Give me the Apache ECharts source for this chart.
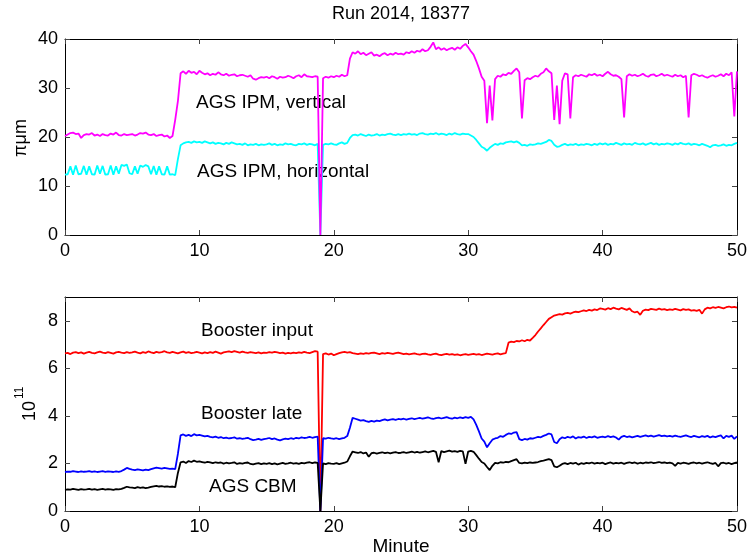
<!DOCTYPE html>
<html>
<head>
<meta charset="utf-8">
<script src="https://cdn.jsdelivr.net/npm/echarts@6/dist/echarts.min.js"></script>
<style>html,body{margin:0;padding:0;background:#fff;}#c{width:750px;height:558px;}</style>
</head>
<body>
<div id="c"></div>
<script>
// Sampling step (minutes) of the recorded traces
const STEP = 0.2;
const X_TICKS = [0, 10, 20, 30, 40, 50];
const TOP_Y_TICKS = [0, 10, 20, 30, 40];
const BOT_Y_TICKS = [0, 2, 4, 6, 8];

// AGS IPM, vertical (pi um)
const ipmVertical = [
20.2,20.5,20.8,20.9,20.6,20.7,19.8,20.4,20.6,20.5,20.8,20.3,20.5,20.2,20.6,20.4,20.3,20.7,20.5,20.9,20.4,20.3,20.6,20.4,20.5,
20.6,20.3,20.5,20.8,20.7,20.9,20.5,20.4,20.6,20.2,20.4,20.5,20.1,20.3,19.8,20.2,23.5,27.3,33.0,33.4,32.9,33.5,33.1,33.3,32.8,
33.5,33.1,32.8,33.0,32.6,32.9,32.7,33.2,32.8,32.6,32.9,32.5,32.7,32.8,32.4,32.6,32.7,32.5,32.3,32.6,31.9,31.7,32.0,32.2,32.1,
32.3,32.0,32.4,32.2,31.9,32.3,32.1,32.2,32.5,32.3,32.0,32.4,32.6,32.2,32.8,32.4,32.3,32.2,32.4,32.3,0,32.0,32.3,32.1,32.4,
32.2,32.5,32.3,32.7,32.4,32.6,36.0,37.3,37.0,37.5,36.9,37.2,36.7,37.0,37.3,36.6,36.8,36.5,36.9,37.1,36.7,37.0,36.8,37.2,36.9,
37.0,36.8,37.3,37.1,37.5,37.2,37.6,37.4,37.9,37.5,37.7,38.4,39.3,37.9,38.3,37.8,38.1,37.7,38.0,38.2,37.8,38.3,38.0,38.6,39.0,
38.3,37.5,36.8,35.5,34.0,32.3,31.5,22.8,30.5,23.4,31.8,32.5,32.3,32.8,32.6,33.1,32.9,33.5,34.0,33.2,23.8,31.6,32.0,31.8,32.2,
32.5,32.3,32.9,33.2,34.0,33.4,33.0,23.5,30.5,22.6,31.5,33.0,32.8,23.8,32.2,32.6,32.4,32.7,32.5,32.3,32.8,32.6,32.9,32.5,32.7,
32.4,32.9,33.3,32.8,32.5,32.6,32.3,31.8,24.0,32.4,32.8,32.5,32.7,32.4,32.6,32.9,32.5,32.3,32.7,32.8,32.4,32.6,32.9,32.5,32.7,
32.5,32.3,32.7,32.4,32.6,32.2,32.5,24.0,32.6,32.9,32.7,32.4,32.6,32.3,32.1,32.4,32.6,32.3,32.5,32.8,32.4,32.9,32.6,33.2,24.2,
33.4];

// AGS IPM, horizontal (pi um)
const ipmHorizontal = [
12.3,12.4,14.0,12.3,14.2,12.4,12.5,14.1,12.3,14.0,12.4,12.3,14.2,12.5,14.1,12.3,12.4,14.2,12.3,14.0,12.5,14.3,14.1,14.4,12.6,
12.4,14.0,12.5,14.2,13.9,14.3,14.0,12.4,14.1,12.3,14.0,12.4,12.3,14.0,12.3,12.4,12.2,15.5,18.3,18.7,18.9,19.0,18.8,19.1,18.9,
19.0,18.8,19.1,18.9,18.7,18.9,18.6,18.8,18.7,18.5,18.8,18.6,18.9,18.7,18.5,18.6,18.4,18.7,18.3,18.5,18.4,18.6,18.3,18.5,18.4,
18.5,18.7,18.4,18.6,18.3,18.5,18.4,18.7,18.5,18.6,18.4,18.3,18.6,18.5,18.7,18.4,18.6,18.5,18.3,18.6,0,18.4,18.6,18.5,18.7,
18.5,18.4,18.7,18.9,18.6,18.8,19.8,20.4,20.5,20.3,20.6,20.4,20.2,20.5,20.3,20.4,20.6,20.3,20.5,20.4,20.6,20.7,20.5,20.4,20.6,
20.4,20.6,20.5,20.7,20.5,20.6,20.4,20.7,20.8,20.6,20.5,20.7,20.6,20.8,20.5,20.7,20.6,20.4,20.7,20.5,20.8,20.6,20.5,20.7,20.6,
20.6,20.3,20.0,19.4,18.7,18.0,17.7,17.2,17.8,18.2,18.6,18.4,18.7,18.6,18.9,19.0,19.1,18.9,19.1,18.8,18.3,18.4,18.2,18.5,18.4,
18.5,18.7,18.6,18.8,19.0,19.4,19.2,18.4,18.0,18.1,18.4,18.6,18.3,18.5,18.4,18.6,18.3,18.5,18.4,18.6,18.5,18.3,18.6,18.4,18.7,
18.5,18.7,18.4,18.6,18.5,18.8,18.6,18.4,18.7,18.5,18.6,18.4,18.8,18.6,18.5,18.7,18.4,18.6,18.8,18.5,18.7,18.4,18.6,18.5,18.7,
18.6,18.4,18.7,18.5,18.8,18.6,18.5,18.7,18.4,18.6,18.5,18.3,18.6,18.4,18.2,17.9,18.3,18.4,18.2,18.3,18.5,18.2,18.4,18.3,18.6,
18.8];

// Booster input (1e11)
const boosterInput = [
6.63,6.65,6.60,6.66,6.68,6.64,6.67,6.62,6.66,6.69,6.65,6.63,6.67,6.70,6.66,6.64,6.68,6.65,6.62,6.67,6.69,6.66,6.64,6.68,6.65,
6.67,6.70,6.66,6.63,6.68,6.65,6.71,6.67,6.64,6.69,6.66,6.68,6.72,6.67,6.65,6.69,6.66,6.63,6.67,6.70,6.65,6.68,6.64,6.66,6.69,
6.66,6.63,6.67,6.64,6.68,6.65,6.70,6.66,6.62,6.67,6.69,6.71,6.68,6.72,6.69,6.66,6.70,6.67,6.65,6.68,6.66,6.64,6.67,6.63,6.66,
6.65,6.68,6.66,6.69,6.67,6.64,6.66,6.62,6.65,6.63,6.66,6.64,6.67,6.65,6.69,6.66,6.64,6.68,6.72,6.70,0,6.60,6.63,6.58,6.62,
6.55,6.60,6.64,6.67,6.69,6.66,6.68,6.64,6.62,6.60,6.63,6.61,6.64,6.62,6.65,6.66,6.63,6.60,6.64,6.62,6.65,6.63,6.61,6.64,6.66,
6.63,6.60,6.62,6.59,6.61,6.63,6.60,6.58,6.61,6.62,6.59,6.57,6.60,6.62,6.58,6.56,6.59,6.61,6.58,6.60,6.57,6.59,6.55,6.58,6.60,
6.57,6.59,6.61,6.58,6.60,6.56,6.59,6.62,6.60,6.58,6.61,6.63,6.59,6.62,6.64,7.08,7.12,7.10,7.15,7.13,7.18,7.14,7.20,7.17,7.28,
7.40,7.55,7.68,7.82,7.95,8.08,8.15,8.22,8.25,8.28,8.26,8.31,8.33,8.30,8.35,8.38,8.36,8.40,8.44,8.41,8.46,8.43,8.48,8.45,8.52,
8.50,8.47,8.53,8.49,8.55,8.51,8.48,8.54,8.50,8.46,8.52,8.40,8.35,8.38,8.25,8.42,8.47,8.45,8.50,8.48,8.46,8.51,8.47,8.49,8.45,
8.48,8.46,8.50,8.47,8.44,8.49,8.46,8.48,8.43,8.45,8.42,8.46,8.30,8.48,8.55,8.52,8.57,8.54,8.58,8.55,8.52,8.57,8.60,8.56,8.58,
8.55];

// Booster late (1e11)
const boosterLate = [
1.64,1.66,1.65,1.68,1.66,1.64,1.67,1.65,1.66,1.68,1.65,1.67,1.64,1.66,1.68,1.65,1.67,1.66,1.64,1.67,1.65,1.68,1.74,1.81,1.77,
1.74,1.72,1.75,1.73,1.71,1.74,1.72,1.76,1.79,1.82,1.80,1.78,1.81,1.79,1.77,1.78,1.76,2.40,3.18,3.22,3.16,3.20,3.15,3.23,3.18,
3.20,3.17,3.14,3.16,3.12,3.10,3.13,3.08,3.11,3.06,3.09,3.05,3.07,3.10,3.04,3.06,3.03,3.05,3.08,3.02,2.98,3.00,3.03,2.99,3.02,
3.04,3.07,3.02,3.05,3.00,2.97,3.01,3.04,3.02,3.06,3.03,3.08,3.05,3.10,3.07,3.09,3.12,3.08,3.11,3.13,0,3.06,3.04,3.08,3.05,
3.03,3.06,3.02,3.05,3.08,3.15,3.50,3.92,3.88,3.84,3.80,3.82,3.78,3.75,3.79,3.76,3.80,3.78,3.82,3.85,3.81,3.84,3.86,3.83,3.87,
3.85,3.88,3.84,3.87,3.90,3.86,3.89,3.92,3.88,3.91,3.94,3.90,3.87,3.91,3.93,3.89,3.92,3.95,3.91,3.88,3.93,3.90,3.94,3.91,3.95,
3.92,3.96,3.85,3.62,3.35,3.05,2.92,2.68,2.85,3.00,3.05,3.08,3.15,3.12,3.20,3.26,3.24,3.30,3.32,3.02,2.98,3.03,3.00,3.06,3.04,
3.08,3.12,3.10,3.16,3.20,3.26,3.22,2.90,2.85,3.02,3.10,3.06,3.12,3.08,3.14,3.05,3.11,3.09,3.13,3.07,3.12,3.10,3.14,3.08,3.11,
3.13,3.10,3.15,3.11,3.14,3.09,3.00,3.12,3.16,3.11,3.14,3.10,3.13,3.16,3.12,3.15,3.18,3.14,3.17,3.13,3.16,3.19,3.15,3.17,3.14,
3.16,3.13,3.17,3.14,3.12,3.15,3.18,3.14,3.11,3.16,3.13,3.10,3.15,3.12,3.16,3.09,3.14,3.11,3.15,3.18,3.05,3.16,3.12,3.17,3.03,
3.14];

// AGS CBM (1e11)
const agsCbm = [
0.89,0.91,0.90,0.93,0.91,0.89,0.92,0.90,0.91,0.93,0.90,0.92,0.89,0.91,0.93,0.90,0.92,0.91,0.89,0.92,0.91,0.93,0.97,1.02,0.99,
0.98,0.96,1.00,0.97,0.99,0.96,0.98,1.01,1.04,1.06,1.03,1.05,1.02,1.04,1.01,1.03,1.00,1.60,2.05,2.08,2.02,2.10,2.06,2.12,2.07,
2.09,2.06,2.03,2.07,2.04,2.01,2.05,2.02,2.04,1.99,2.03,2.00,2.02,2.05,1.98,2.01,1.99,2.02,2.04,1.98,1.96,1.99,2.01,1.97,2.00,
1.98,2.01,1.97,2.00,1.96,1.99,2.02,1.98,2.00,2.03,1.99,2.01,1.98,2.02,2.00,2.03,2.05,2.01,2.04,2.02,0,2.00,1.97,2.01,1.99,
1.98,2.01,1.97,2.00,2.03,2.08,2.30,2.50,2.47,2.44,2.48,2.42,2.46,2.28,2.43,2.45,2.41,2.44,2.47,2.43,2.46,2.42,2.45,2.48,2.44,
2.45,2.48,2.44,2.47,2.50,2.46,2.49,2.45,2.48,2.51,2.47,2.50,2.53,2.49,2.05,2.52,2.48,2.51,2.54,2.50,2.52,2.49,2.53,2.51,1.98,
2.50,2.53,2.49,2.35,2.20,2.06,2.00,1.85,1.72,1.90,2.02,2.00,2.05,2.03,2.07,2.05,2.10,2.14,2.18,2.02,2.00,2.03,2.01,2.04,2.02,
2.04,2.06,2.10,2.12,2.15,2.18,2.14,1.88,1.84,1.90,1.98,2.01,1.97,2.02,1.99,2.03,1.95,2.01,1.98,2.02,2.00,2.04,1.99,2.02,2.00,
2.03,1.97,2.01,2.04,1.99,2.02,2.00,2.03,1.98,2.02,2.05,2.01,2.04,1.99,2.03,2.00,2.04,2.02,2.05,2.01,2.03,2.06,2.02,2.04,2.01,
2.03,2.00,1.90,2.02,1.99,2.03,2.01,1.98,2.02,2.04,2.00,2.03,1.99,2.02,2.05,2.01,1.98,2.02,1.88,2.01,2.03,1.99,2.02,1.97,2.01,
2.04];

const FONT = '"Liberation Sans", Arial, Helvetica, sans-serif';
const toPairs = arr => arr.map((v, i) => [Math.round(i * STEP * 10) / 10, v]);

const chart = echarts.init(document.getElementById('c'), null, {renderer: 'canvas'});

function xAx(grid, pos, labels) {
  return {
    type: 'value', gridIndex: grid, position: pos, min: 0, max: 50, interval: 10,
    axisLine: {show: true, onZero: false, lineStyle: {color: '#000', width: 1}},
    axisTick: {show: true, inside: true, length: 5, lineStyle: {color: '#444'}},
    axisLabel: {show: labels, margin: 7, color: '#000', fontSize: 18, fontFamily: FONT,
      customValues: X_TICKS},
    splitLine: {show: false}
  };
}
function yAx(grid, pos, labels, max, interval, ticks) {
  return {
    type: 'value', gridIndex: grid, position: pos, min: 0, max: max, interval: interval,
    axisLine: {show: true, onZero: false, lineStyle: {color: '#000', width: 1}},
    axisTick: {show: true, inside: true, length: 5, lineStyle: {color: '#444'}, customValues: ticks},
    axisLabel: {show: labels, margin: 7, color: '#000', fontSize: 18, fontFamily: FONT, customValues: ticks},
    splitLine: {show: false}
  };
}
function line(data, color, xi, yi) {
  return {
    type: 'line', data: toPairs(data), xAxisIndex: xi, yAxisIndex: yi,
    showSymbol: false, symbol: 'none', animation: false, clip: true,
    lineStyle: {color: color, width: 1.8}, itemStyle: {color: color}
  };
}
function txt(text, x, y, size, align) {
  return {type: 'text', x: x, y: y, silent: true,
    style: {text: text, fill: '#000', font: (size || 19) + 'px ' + FONT, align: align || 'left', verticalAlign: 'middle'}};
}

chart.setOption({
  animation: false,
  backgroundColor: '#fff',
  grid: [
    {left: 65, top: 39, right: 13, height: 196},
    {left: 65, top: 297, right: 13, height: 214}
  ],
  xAxis: [xAx(0, 'bottom', true), xAx(0, 'top', false), xAx(1, 'bottom', true), xAx(1, 'top', false)],
  yAxis: [
    yAx(0, 'left', true, 40, 10, TOP_Y_TICKS), yAx(0, 'right', false, 40, 10, TOP_Y_TICKS),
    yAx(1, 'left', true, 9, 1, BOT_Y_TICKS), yAx(1, 'right', false, 9, 1, BOT_Y_TICKS)
  ],
  series: [
    line(ipmHorizontal, '#00ffff', 0, 0),
    line(ipmVertical, '#ff00ff', 0, 0),
    line(boosterInput, '#ff0000', 2, 2),
    line(boosterLate, '#0000ff', 2, 2),
    line(agsCbm, '#000000', 2, 2)
  ],
  graphic: [
    txt('Run 2014, 18377', 401, 14, 18, 'center'),
    txt('AGS IPM, vertical', 196, 103),
    txt('AGS IPM, horizontal', 197, 172),
    txt('Booster input', 201, 331),
    txt('Booster late', 201, 414),
    txt('AGS CBM', 209, 487),
    txt('Minute', 401, 547, 19, 'center'),
    {type: 'text', x: 21, y: 138, rotation: Math.PI / 2, silent: true,
      style: {text: 'πμm', fill: '#000', font: '18px ' + FONT, align: 'center', verticalAlign: 'middle'}},
    {type: 'group', x: 30, y: 404, rotation: Math.PI / 2, silent: true, children: [
      {type: 'text', style: {text: '10', x: -17, y: 0, fill: '#000', font: '18px ' + FONT, align: 'left', verticalAlign: 'middle'}},
      {type: 'text', style: {text: '11', x: 5, y: -10, fill: '#000', font: '12px ' + FONT, align: 'left', verticalAlign: 'middle'}}
    ]}
  ]
});
</script>
</body>
</html>
